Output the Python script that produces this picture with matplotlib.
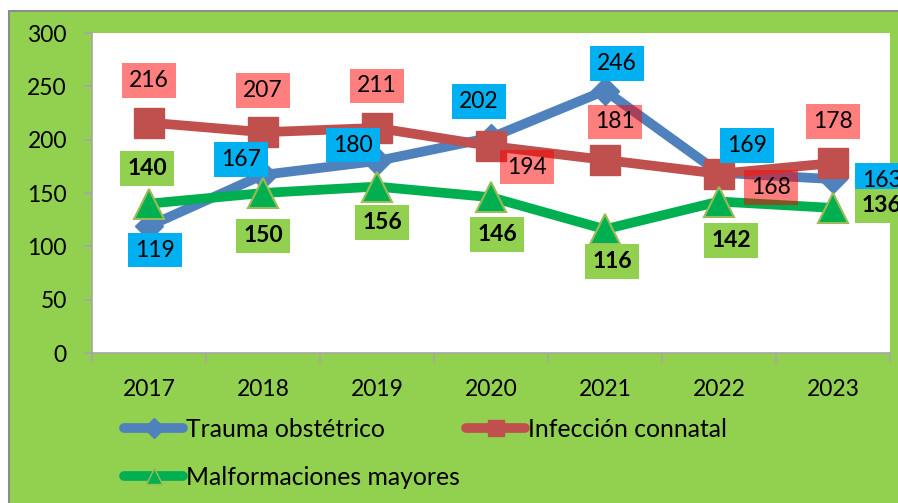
import matplotlib.pyplot as plt
from matplotlib.lines import Line2D
from matplotlib.patches import Rectangle

# data
years = ["2017", "2018", "2019", "2020", "2021", "2022", "2023"]
trauma = [119, 167, 180, 202, 246, 169, 163]
infeccion = [216, 207, 211, 194, 181, 168, 178]
malformaciones = [140, 150, 156, 146, 116, 142, 136]

# label offsets (pixels) relative to each point
trauma_off = [(6, -24), (-22, 15), (-24, 16), (-12, 36), (12, 27), (28, 27), (49, -1)]
infeccion_off = [(0, 42), (0, 42), (0, 42), (36, -21), (10, 38), (52, -14), (0, 42)]
malf_off = [(-2, 35), (0, -43), (5, -36), (6, -37), (7, -32), (12, -39), (49, 2)]

plt.rcParams['font.family'] = ['Lato', 'DejaVu Sans']

W, H = 898, 503
fig = plt.figure(figsize=(W / 100, H / 100), dpi=100, facecolor='white')

# green chart area with grey border
fig.patches.append(Rectangle((9 / W, -0.1), 1.2, 1 - 11 / H + 0.1, transform=fig.transFigure,
                             facecolor='#92D050', edgecolor='#8C8C8C', lw=1.5, zorder=-5))

ax = fig.add_axes([92 / W, 1 - 353 / H, (890 - 92) / W, (353 - 33) / H])
ax.set_facecolor('white')

x = list(range(len(years)))
ax.plot(x, trauma, color='#4F81BD', lw=7, marker='D', ms=14, mfc='#4F81BD', mec='#4F81BD',
        zorder=2, clip_on=False)
ax.plot(x, infeccion, color='#C0504D', lw=7, marker='s', ms=21, mfc='#C0504D', mec='#C0504D',
        zorder=3, clip_on=False)
ax.plot(x, malformaciones, color='#00B050', lw=7, marker='^', ms=22, mfc='#00B050', mec='#9BBB59',
        mew=1.5, zorder=4, clip_on=False)

def labels(vals, offs, fc, alpha=1.0, weight='normal', z=5):
    for i, (v, o) in enumerate(zip(vals, offs)):
        ax.annotate(str(v), (i, v), xytext=o, textcoords='offset pixels', ha='center', va='center',
                    fontsize=16.5, fontweight=weight, color='black', zorder=z, annotation_clip=False,
                    bbox=dict(boxstyle='square,pad=0.3', fc=fc, ec='none', alpha=alpha))

labels(trauma, trauma_off, '#00B0F0', z=5)
labels(infeccion, infeccion_off, '#FF0000', alpha=0.5, z=6)
labels(malformaciones, malf_off, '#92D050', weight='bold', z=7)

ax.set_xlim(-0.5, 6.5)
ax.set_ylim(0, 300)
ax.set_yticks(range(0, 301, 50))
ax.set_xticks(x)
ax.set_xticklabels(years)
ax.set_xticks([i - 0.5 for i in range(8)], minor=True)
ax.tick_params(axis='x', which='major', length=0, pad=19, labelsize=16.5)
ax.tick_params(axis='x', which='minor', length=7, width=1.2, color='#A6A6A6')
ax.tick_params(axis='y', length=6, width=1.2, color='#A6A6A6', pad=12, labelsize=16.5)
for s in ['top', 'right']:
    ax.spines[s].set_visible(False)
for s in ['left', 'bottom']:
    ax.spines[s].set_color('#A6A6A6')
    ax.spines[s].set_linewidth(1.2)

h_trauma = Line2D([], [], color='#4F81BD', lw=7, marker='D', ms=10, solid_capstyle='round')
h_infec = Line2D([], [], color='#C0504D', lw=7, marker='s', ms=12, solid_capstyle='round')
h_malf = Line2D([], [], color='#00B050', lw=7, marker='^', ms=12, mec='#9BBB59', solid_capstyle='round')
# legend fills column by column
fig.legend([h_trauma, h_malf, h_infec],
           ["Trauma obstétrico", "Malformaciones mayores", "Infección connatal"],
           loc='upper left', bbox_to_anchor=(124 / W, 1 - 418 / H), ncol=2,
           frameon=False, fontsize=17.8, handlelength=2.4, handletextpad=0.1,
           columnspacing=0.25, labelspacing=1.0, borderpad=0, borderaxespad=0)

fig.savefig('out.png', dpi=100, facecolor=fig.get_facecolor())
